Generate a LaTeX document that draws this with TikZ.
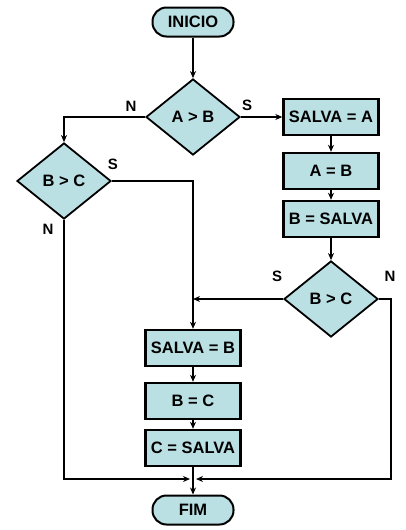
\documentclass[tikz,border=0pt]{standalone}
\usepackage{fontspec}
\setmainfont{Liberation Sans}
\usetikzlibrary{positioning, arrows.meta, shapes.geometric}
\definecolor{caixa}{RGB}{187,224,227}

\begin{document}
\begin{tikzpicture}[x=1pt, y=-1pt,
        font=\fontsize{16.5}{18}\selectfont\bfseries,
        every node/.style={align=center, inner sep=0pt},
        terminal/.style={draw, line width=2pt, fill=caixa, rounded corners=14pt, minimum width=81pt, minimum height=29pt},
        passo/.style={draw, line width=2.4pt, fill=caixa, minimum width=95pt, minimum height=36pt},
        teste/.style={draw, line width=1.8pt, fill=caixa, diamond, aspect=1.24, minimum width=94pt, minimum height=76pt},
        rotulo/.style={font=\fontsize{15}{17}\selectfont\bfseries},
        arrow/.style={-{Stealth[length=7pt, width=6pt]}, line width=2pt},
        linha/.style={line width=2pt}]

        \useasboundingbox (0,0) rectangle (405,530);

        % inicio e primeiro teste
        \node[terminal] (inicio) at (193, 22) {INICIO};
        \node[teste]    (ab)     at (193,117) {A > B};

        % ramo S: troca A e B
        \node[passo] (salvaA) at (331,117) {SALVA = A};
        \node[passo] (aB)     at (331,171) {A = B};
        \node[passo] (bSalva) at (331,219) {B = SALVA};
        \node[teste] (bc2)    at (331,299) {B > C};

        % ramo N
        \node[teste] (bc1) at (64,181) {B > C};

        % troca B e C
        \node[passo] (salvaB) at (193,348) {SALVA = B};
        \node[passo] (bC)     at (193,401) {B = C};
        \node[passo] (cSalva) at (193,448) {C = SALVA};

        % fim
        \coordinate (junta) at (193,479);
        \node[terminal] (fim) at (193,510) {FIM};

        % Setas
        \draw[arrow] (inicio) -- (ab);
        \draw[arrow] (ab.west) -| (bc1.north);
        \draw[arrow] (ab.east) -- (salvaA.west);
        \draw[arrow] (salvaA) -- (aB);
        \draw[arrow] (aB) -- (bSalva);
        \draw[arrow] (bSalva) -- (bc2);
        \draw[arrow] (bc1.east) -| (salvaB.north);
        \draw[arrow] (bc2.west) -- (salvaB.north |- bc2.west);
        \draw[arrow] (salvaB) -- (bC);
        \draw[arrow] (bC) -- (cSalva);
        \draw[linha] (cSalva) -- (junta);
        \draw[arrow] (bc1.south) |- ([xshift=-3pt]junta);
        \draw[arrow] (bc2.east) -- ++(12,0) |- ([xshift=3pt]junta);
        \draw[arrow] (junta) -- (fim);

        % Rotulos S / N
        \node[rotulo] (nAB)  at (131,106) {N};
        \node[rotulo] (sAB)  at (247,105) {S};
        \node[rotulo] (sBC1) at (113,164) {S};
        \node[rotulo] (nBC1) at (48,229)  {N};
        \node[rotulo] (sBC2) at (277,276) {S};
        \node[rotulo] (nBC2) at (390,276) {N};
    \end{tikzpicture}
\end{document}
